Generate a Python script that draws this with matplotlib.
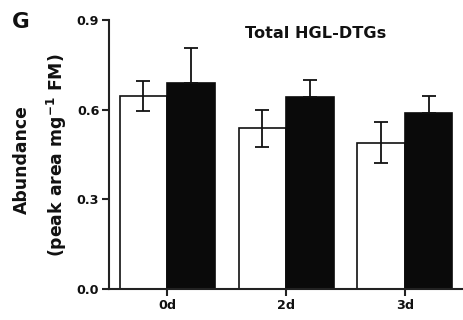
import numpy as np
import matplotlib.pyplot as plt

plt.rcParams['font.family'] = ['DejaVu Sans']
plt.rcParams['font.weight'] = 'bold'
plt.rcParams['mathtext.default'] = 'bf'

days = ['0d', '2d', '3d']
control_mean = [0.646, 0.537, 0.489]
control_sem = [0.051, 0.061, 0.069]
treated_mean = [0.689, 0.642, 0.588]
treated_sem = [0.116, 0.057, 0.057]

x = np.arange(len(days))
width = 0.4
W, H = 463, 320

fig = plt.figure(figsize=(W / 100, H / 100), dpi=100)
ax = fig.add_axes([109 / W, 31 / H, 353 / W, 269 / H])

ax.bar(x - width / 2, control_mean, width, color='white', edgecolor='#111111',
       linewidth=1.2, zorder=2)
ax.bar(x + width / 2, treated_mean, width, color='#0a0a0a', edgecolor='#0a0a0a',
       linewidth=1.2, zorder=2)
ax.errorbar(x - width / 2, control_mean, yerr=control_sem, fmt='none',
            ecolor='#111111', elinewidth=1.3, capsize=5, capthick=1.3, zorder=3)
ax.errorbar(x + width / 2, treated_mean, yerr=[[0] * 3, treated_sem], fmt='none',
            ecolor='#111111', elinewidth=1.3, capsize=5, capthick=1.3, zorder=3)

ax.set_xlim(-0.49, 2.48)
ax.set_ylim(0, 0.9)
ax.set_yticks([0, 0.3, 0.6, 0.9])
ax.set_yticklabels(['0.0', '0.3', '0.6', '0.9'])
ax.set_xticks(x)
ax.set_xticklabels(days)

for side in ['top', 'right']:
    ax.spines[side].set_visible(False)
for side in ['left', 'bottom']:
    ax.spines[side].set_linewidth(1.5)
    ax.spines[side].set_color('#222222')
ax.tick_params(axis='both', width=1.5, length=5, color='#222222',
               labelsize=9.2, pad=2, labelcolor='#111111')

# two-line y label, placed as separate rotated texts
fig.text(22 / W, 1 - 160 / H, 'Abundance', rotation=90, ha='center',
         va='center', fontsize=12.4, fontweight='bold', color='#111111')
fig.text(57 / W, 1 - 155 / H, '(peak area mg$^{-1}$ FM)', rotation=90,
         ha='center', va='center', fontsize=12.4, fontweight='bold',
         color='#111111')

fig.text(316 / W, 1 - 37.7 / H, 'Total HGL-DTGs', ha='center', va='baseline',
         fontsize=11.6, fontweight='bold', color='#111111')
fig.text(12 / W, 1 - 28.3 / H, 'G', ha='left', va='baseline', fontsize=15.5,
         fontweight='bold', color='#111111')

fig.savefig('out.png', dpi=100)
